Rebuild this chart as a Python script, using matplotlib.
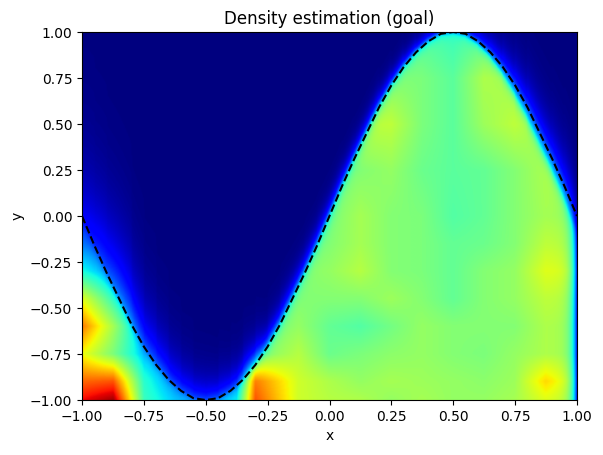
import numpy as np
import matplotlib.pyplot as plt

# goal curve, every 0.05 in x
curve_x = np.linspace(-1, 1, 41)
curve_y = [0.0, -0.16, -0.31, -0.45, -0.59, -0.71, -0.81, -0.89, -0.95, -0.99, -1.0,
           -0.99, -0.95, -0.89, -0.81, -0.71, -0.59, -0.45, -0.31, -0.16, 0.0,
           0.16, 0.31, 0.45, 0.59, 0.71, 0.81, 0.89, 0.95, 0.99, 1.0,
           0.99, 0.95, 0.89, 0.81, 0.71, 0.59, 0.45, 0.31, 0.16, 0.0]

# coarse reading of the estimated density (colormap fraction), rows bottom -> top
grid_x = [-1, -0.875, -0.75, -0.625, -0.5, -0.375, -0.3, -0.125, 0,
          0.125, 0.25, 0.375, 0.5, 0.625, 0.75, 0.875, 1]
grid_y = [-1, -0.9, -0.75, -0.6, -0.45, -0.3, -0.15, 0, 0.25, 0.5, 0.75, 1]
row_m100 = [0.90, 0.97, 0.42, 0.32, 0.28, 0.36, 0.82, 0.60, 0.57, 0.56, 0.53, 0.55, 0.53, 0.53, 0.55, 0.62, 0.58]
row_m090 = [0.80, 0.82, 0.40, 0.28, 0.22, 0.30, 0.78, 0.60, 0.56, 0.53, 0.55, 0.54, 0.53, 0.52, 0.54, 0.68, 0.60]
row_m075 = [0.64, 0.50, 0.32, 0.28, 0.22, 0.30, 0.50, 0.57, 0.48, 0.50, 0.52, 0.53, 0.51, 0.50, 0.53, 0.56, 0.56]
row_m060 = [0.78, 0.55, 0.30, 0.25, 0.20, 0.30, 0.48, 0.53, 0.47, 0.45, 0.49, 0.53, 0.51, 0.51, 0.51, 0.56, 0.56]
row_m045 = [0.62, 0.42, 0.25, 0.20, 0.20, 0.30, 0.45, 0.51, 0.51, 0.51, 0.54, 0.51, 0.47, 0.51, 0.53, 0.58, 0.58]
row_m030 = [0.38, 0.28, 0.22, 0.20, 0.20, 0.30, 0.45, 0.51, 0.53, 0.57, 0.51, 0.50, 0.47, 0.51, 0.53, 0.62, 0.62]
row_m015 = [0.24, 0.20, 0.20, 0.20, 0.20, 0.30, 0.40, 0.50, 0.51, 0.55, 0.51, 0.50, 0.47, 0.48, 0.51, 0.58, 0.58]
row_p000 = [0.15, 0.14, 0.15, 0.15, 0.15, 0.25, 0.35, 0.45, 0.50, 0.55, 0.51, 0.50, 0.45, 0.47, 0.51, 0.55, 0.55]
row_p025 = [0.15, 0.15, 0.15, 0.15, 0.15, 0.25, 0.35, 0.50, 0.50, 0.51, 0.53, 0.48, 0.46, 0.47, 0.51, 0.56, 0.56]
row_p050 = [0.15, 0.15, 0.15, 0.15, 0.15, 0.25, 0.35, 0.50, 0.55, 0.58, 0.58, 0.50, 0.46, 0.54, 0.58, 0.55, 0.55]
row_p075 = [0.15, 0.15, 0.15, 0.15, 0.15, 0.25, 0.35, 0.50, 0.50, 0.51, 0.51, 0.50, 0.46, 0.56, 0.55, 0.50, 0.50]
row_p100 = [0.15, 0.15, 0.15, 0.15, 0.15, 0.25, 0.35, 0.45, 0.45, 0.45, 0.45, 0.45, 0.42, 0.45, 0.45, 0.45, 0.45]
density_rows = [row_m100, row_m090, row_m075, row_m060, row_m045, row_m030,
                row_m015, row_p000, row_p025, row_p050, row_p075, row_p100]

# width (px) of the fade outside the curve, and how far the density edge sits inside it
glow_x = [-1, -0.75, -0.5, -0.25, 0, 0.25, 0.5, 0.75, 1]
glow_px = [20, 18, 17, 6, 4, 4, 6, 9, 10]
shift_px = [0, 0, 0, 0, 0, 0, 0, 5, 5]

# pixels per data unit in the axes
sx, sy = 247.5, 184.0

xs = np.linspace(-1, 1, 600)
ys = np.linspace(-1, 1, 460)
X, Y = np.meshgrid(xs, ys)

# bilinear resample of the coarse grid
G = np.array(density_rows)
tmp = np.array([np.interp(xs, grid_x, row) for row in G])
F = np.array([np.interp(ys, grid_y, tmp[:, j]) for j in range(len(xs))]).T

yc = np.interp(xs, curve_x, curve_y)
slope = np.gradient(yc, xs)
dist = (yc[None, :] - Y) * sy / np.sqrt(1 + (slope[None, :] * sy / sx) ** 2)
dist = dist - np.interp(xs, glow_x, shift_px)[None, :]
w_out = np.interp(xs, glow_x, glow_px)[None, :]

edge = np.array([np.interp(yc[j], ys, F[:, j]) for j in range(len(xs))])[None, :]
inside = F * (1 - 0.3 * np.exp(-np.clip(dist, 0, None) / 3.0))
outside = 0.7 * edge * np.exp(np.clip(dist, None, 0) / w_out)
Z = np.where(dist >= 0, inside, outside)
Z = Z * (1 - 0.7 * np.exp(-(1 - X) * sx / 5.0))

fig = plt.figure(figsize=(6.03, 4.55), dpi=100)
ax = fig.add_axes([82 / 603, 1 - 400 / 455, 495 / 603, 368 / 455])
ax.imshow(Z, cmap='jet', vmin=0, vmax=1, origin='lower', extent=[-1, 1, -1, 1],
          aspect='auto', interpolation='bilinear')
ax.plot(curve_x, curve_y, 'k--', linewidth=1.5)
ax.set_xlim(-1, 1)
ax.set_ylim(-1, 1)
ax.set_xticks(np.arange(-1, 1.01, 0.25))
ax.set_yticks(np.arange(-1, 1.01, 0.25))
ax.set_xlabel('x')
ax.set_ylabel('y')
ax.set_title('Density estimation (goal)')
fig.savefig('out.png', dpi=100)
